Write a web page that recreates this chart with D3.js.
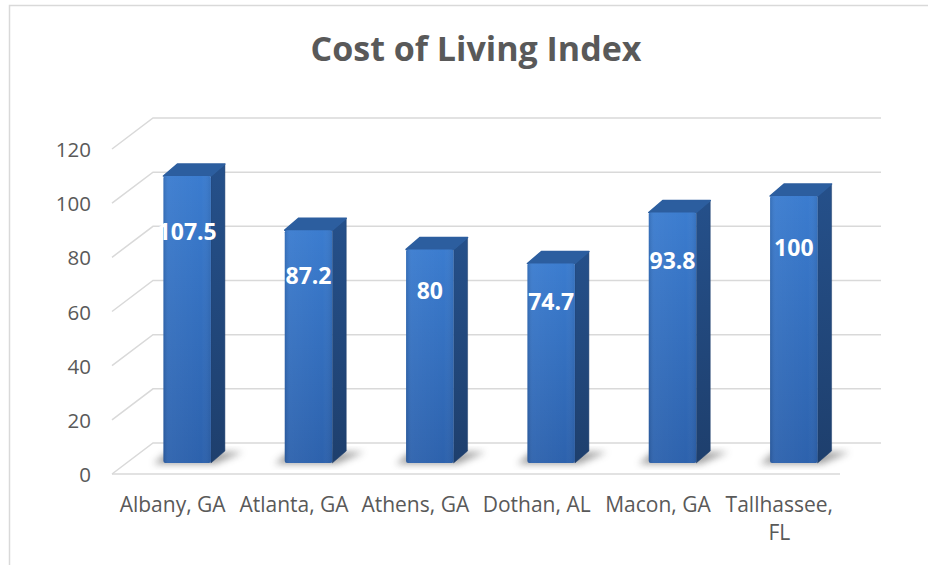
<!DOCTYPE html>
<html>
<head>
<meta charset="utf-8">
<script src="https://cdn.jsdelivr.net/npm/d3@7"></script>
<style>
  body { margin: 0; background: #fff; }
  svg { display: block; }
</style>
</head>
<body>
<svg id="chart" width="928" height="565"></svg>
<script>
// values
var cities = ["Albany, GA", "Atlanta, GA", "Athens, GA", "Dothan, AL", "Macon, GA", "Tallhassee, FL"];
var cityLines = [["Albany, GA"], ["Atlanta, GA"], ["Athens, GA"], ["Dothan, AL"], ["Macon, GA"], ["Tallhassee,", "FL"]];
var costIndex = [107.5, 87.2, 80, 74.7, 93.8, 100];
var yTicks = [0, 20, 40, 60, 80, 100, 120];

var svg = d3.select("#chart");
var grey = "#595959";
var font = "'Open Sans', Lato, sans-serif";

// oblique 3d: the floor goes back by depthX / depthY
var depthX = 41, depthY = -31;
var barOffX = 14.5;                  // bar front sits a bit into the floor
var barDX = 14, barDY = -12;         // bar thickness

var x = d3.scaleBand().domain(cities).range([112, 840]).paddingInner(0).paddingOuter(0);
var yWall = d3.scaleLinear().domain([0, 120]).range([474, 149]);
var yBar = d3.scaleLinear().domain([0, 120]).range([463, 463 - 120 * 2.67]);

// chart border
svg.append("rect")
    .attr("x", 9.5).attr("y", 5.5)
    .attr("width", 940).attr("height", 600)
    .attr("fill", "none")
    .attr("stroke", "#d9d9d9")
    .attr("stroke-width", 1.5);

var defs = svg.append("defs");
var gFront = defs.append("linearGradient").attr("id", "front")
    .attr("x1", 0).attr("y1", 0).attr("x2", 0).attr("y2", 1);
gFront.append("stop").attr("offset", "0%").attr("stop-color", "#3b7ccf");
gFront.append("stop").attr("offset", "100%").attr("stop-color", "#2d62ad");
var gEdge = defs.append("linearGradient").attr("id", "edge")
    .attr("x1", 0).attr("y1", 0).attr("x2", 1).attr("y2", 0);
gEdge.append("stop").attr("offset", "0%").attr("stop-color", "#000").attr("stop-opacity", 0.12);
gEdge.append("stop").attr("offset", "12%").attr("stop-color", "#fff").attr("stop-opacity", 0.04);
gEdge.append("stop").attr("offset", "80%").attr("stop-color", "#fff").attr("stop-opacity", 0.0);
gEdge.append("stop").attr("offset", "100%").attr("stop-color", "#000").attr("stop-opacity", 0.08);
var gSide = defs.append("linearGradient").attr("id", "side")
    .attr("x1", 0).attr("y1", 0).attr("x2", 0).attr("y2", 1);
gSide.append("stop").attr("offset", "0%").attr("stop-color", "#25508a");
gSide.append("stop").attr("offset", "100%").attr("stop-color", "#1e3f6d");
defs.append("filter").attr("id", "blur")
    .attr("x", "-50%").attr("y", "-50%").attr("width", "200%").attr("height", "200%")
    .append("feGaussianBlur").attr("stdDeviation", 3.5);

// gridlines: side wall diagonal + back wall
var grid = svg.append("g")
    .attr("stroke", "#d9d9d9")
    .attr("stroke-width", 1.5)
    .attr("fill", "none");
yTicks.forEach(function (t) {
    var fy = yWall(t);
    grid.append("path")
        .attr("d", "M112," + fy + "L" + (112 + depthX) + "," + (fy + depthY) +
            "L" + (840 + depthX) + "," + (fy + depthY));
});
grid.append("line")
    .attr("x1", 112).attr("x2", 840)
    .attr("y1", yWall(0)).attr("y2", yWall(0));

// y labels
svg.append("g").selectAll("text")
    .data(yTicks)
    .enter().append("text")
    .attr("x", 91)
    .attr("y", function (d) { return yWall(d) + 8; })
    .attr("text-anchor", "end")
    .attr("font-family", font)
    .attr("font-size", 20.5)
    .attr("fill", grey)
    .text(function (d) { return d; });

var bw = 47.5;
function fx(d) { return x(d) + x.bandwidth() / 2 - bw / 2 + barOffX; }

// floor shadows
svg.append("g").selectAll("path")
    .data(cities)
    .enter().append("path")
    .attr("d", function (d) {
        var x0 = fx(d) - 10, x1 = fx(d) + bw + 4, y0 = yBar(0) + 1;
        return "M" + x0 + "," + y0 + "L" + x1 + "," + y0 +
            "L" + (x1 + barDX + 14) + "," + (y0 + barDY) +
            "L" + (x0 + barDX) + "," + (y0 + barDY) + "Z";
    })
    .attr("fill", "#555")
    .attr("opacity", 0.55)
    .attr("filter", "url(#blur)");

var bars = svg.append("g").selectAll("g")
    .data(cities)
    .enter().append("g");

// side face
bars.append("path")
    .attr("d", function (d, i) {
        var xr = fx(d) + bw, yt = yBar(costIndex[i]), yb = yBar(0);
        return "M" + xr + "," + yb + "L" + xr + "," + yt +
            "L" + (xr + barDX) + "," + (yt + barDY) +
            "L" + (xr + barDX) + "," + (yb + barDY) + "Z";
    })
    .attr("fill", "url(#side)")
    .attr("stroke", "#1e3f6d")
    .attr("stroke-width", 0.5)
    .attr("stroke-linejoin", "round");

// top face
bars.append("path")
    .attr("d", function (d, i) {
        var xl = fx(d), xr = xl + bw, yt = yBar(costIndex[i]);
        return "M" + xl + "," + yt + "L" + xr + "," + yt +
            "L" + (xr + barDX) + "," + (yt + barDY) +
            "L" + (xl + barDX) + "," + (yt + barDY) + "Z";
    })
    .attr("fill", "#2c5e9f")
    .attr("stroke", "#2c5e9f")
    .attr("stroke-width", 1.5)
    .attr("stroke-linejoin", "round");

// front face
bars.append("rect")
    .attr("x", function (d) { return fx(d); })
    .attr("y", function (d, i) { return yBar(costIndex[i]); })
    .attr("width", bw)
    .attr("height", function (d, i) { return yBar(0) - yBar(costIndex[i]); })
    .attr("rx", 2)
    .attr("fill", "url(#front)");
bars.append("rect")
    .attr("x", function (d) { return fx(d); })
    .attr("y", function (d, i) { return yBar(costIndex[i]); })
    .attr("width", bw)
    .attr("height", function (d, i) { return yBar(0) - yBar(costIndex[i]); })
    .attr("rx", 2)
    .attr("fill", "url(#edge)");

// value labels
bars.append("text")
    .attr("x", function (d) { return fx(d) + bw / 2; })
    .attr("y", function (d, i) { return yBar(costIndex[i] * 0.805) + 8; })
    .attr("text-anchor", "middle")
    .attr("font-family", font)
    .attr("font-weight", "bold")
    .attr("font-size", 23)
    .attr("fill", "#fff")
    .text(function (d, i) { return costIndex[i]; });

// category labels
var cat = svg.append("g").selectAll("text")
    .data(cities)
    .enter().append("text")
    .attr("x", function (d) { return x(d) + x.bandwidth() / 2; })
    .attr("y", 512)
    .attr("text-anchor", "middle")
    .attr("font-family", font)
    .attr("font-size", 21)
    .attr("fill", grey);
cat.selectAll("tspan")
    .data(function (d, i) { return cityLines[i]; })
    .enter().append("tspan")
    .attr("x", function () { var p = this.parentNode.__data__; return x(p) + x.bandwidth() / 2; })
    .attr("dy", function (d, j) { return j ? 28 : 0; })
    .text(function (d) { return d; });

// title
svg.append("text")
    .attr("x", 476)
    .attr("y", 61)
    .attr("text-anchor", "middle")
    .attr("font-family", font)
    .attr("font-weight", "bold")
    .attr("font-size", 34)
    .attr("fill", grey)
    .text("Cost of Living Index");
</script>
</body>
</html>
